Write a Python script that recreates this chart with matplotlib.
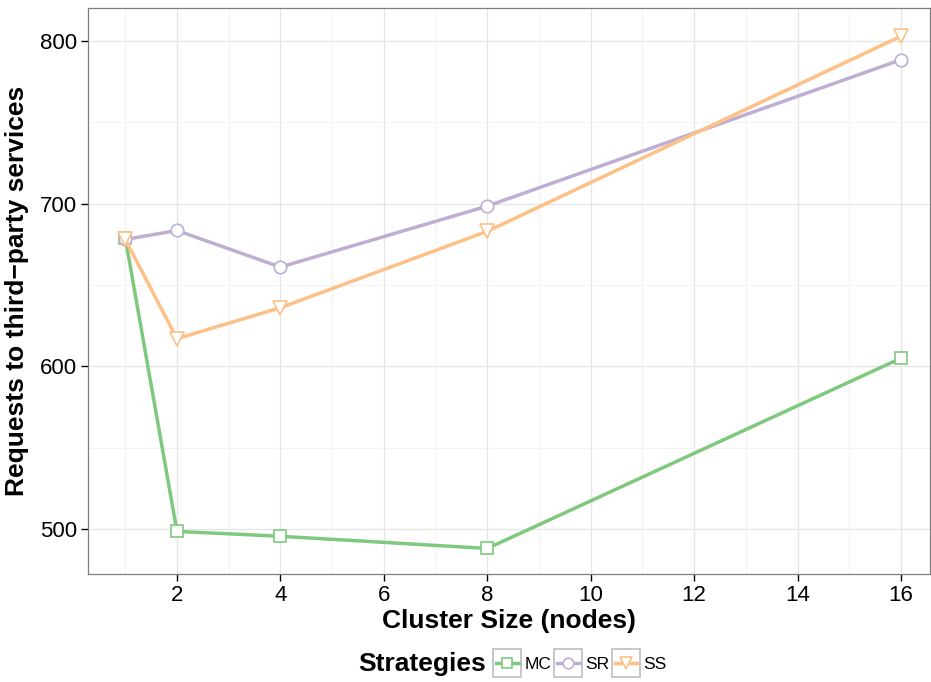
import numpy as np
import matplotlib.pyplot as plt
from matplotlib.patches import Rectangle

plt.rcParams['font.family'] = ['Liberation Sans', 'DejaVu Sans']

# data
nodes = [1, 2, 4, 8, 16]
mc = [679, 498.5, 495.5, 488, 605]
sr = [678, 683.5, 661, 698.5, 788.5]
ss = [678, 617, 636, 683, 803]

series = [("MC", mc, "#7fc97f", "s"), ("SR", sr, "#beaed4", "o"), ("SS", ss, "#fdc086", "v")]

fig = plt.figure(figsize=(9.31, 6.82), dpi=100)
ax = fig.add_axes([88/931, 1 - 574/682, 842/931, 566/682])

for name, vals, col, mk in series:
    ms = 10.5 if mk == "v" else 9
    ax.plot(nodes, vals, color=col, lw=2.5, marker=mk, markersize=ms,
            markerfacecolor="white", markeredgecolor=col, markeredgewidth=1.2,
            label=name, zorder=3)

ax.set_xticks(range(2, 17, 2))
ax.set_xticks(range(1, 17, 2), minor=True)
ax.set_yticks([500, 600, 700, 800])
ax.set_yticks([550, 650, 750], minor=True)
ax.set_xlim(0.28, 16.56)
ax.set_ylim(472.3, 820.3)
ax.grid(True, which="major", color="#e5e5e5", lw=0.9)
ax.grid(True, which="minor", color="#f3f3f3", lw=0.7)
ax.set_axisbelow(True)
ax.tick_params(which="major", labelsize=16, length=5, width=1, color="black", pad=3)
ax.tick_params(which="minor", length=0)
for sp in ax.spines.values():
    sp.set_color("#7f7f7f")
    sp.set_linewidth(0.9)

ax.set_xlabel("Cluster Size (nodes)", fontsize=19, fontweight="bold", labelpad=2)
ax.set_ylabel("Requests to third\u2212party services", fontsize=19, fontweight="bold", labelpad=8)

# legend at bottom
fig.text(358/931, 1 - 664/682, "Strategies", fontsize=19, fontweight="bold", va="center", ha="left")
h, l = ax.get_legend_handles_labels()
leg = fig.legend(h, l, loc="center left", bbox_to_anchor=(496/931, 1 - 664/682), ncol=3,
                 frameon=False, fontsize=12.5, handlelength=1.3, handletextpad=0.35,
                 columnspacing=0.3, borderpad=0, borderaxespad=0, markerscale=0.85)
fig.canvas.draw()
for lh in leg.legend_handles:
    bb = lh.get_window_extent(fig.canvas.get_renderer())
    cx = (bb.x0 + bb.x1) / 2
    cy = (bb.y0 + bb.y1) / 2
    w = 28
    fig.patches.append(Rectangle(((cx - w/2)/931, (cy - w/2)/682), w/931, w/682,
                                 transform=fig.transFigure, facecolor="none",
                                 edgecolor="#bfbfbf", lw=1.2, zorder=0))

fig.savefig("out.png", dpi=100)
